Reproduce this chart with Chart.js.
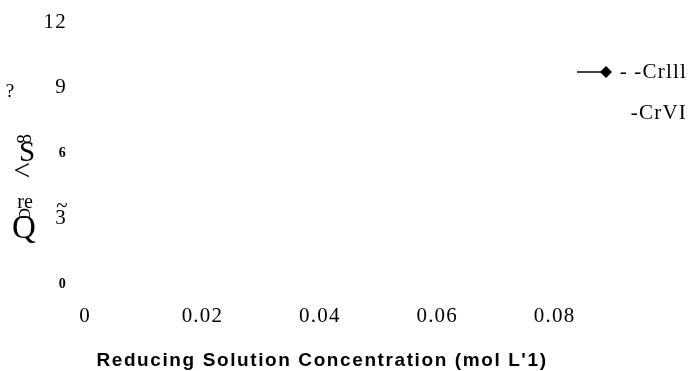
<!DOCTYPE html>
<html>
<head>
<meta charset="utf-8">
<script src="https://cdn.jsdelivr.net/npm/chart.js@4/dist/chart.umd.min.js"></script>
<style>
  html, body { margin: 0; padding: 0; background: #fff; }
  #wrap { width: 689px; height: 371px; position: relative; }
</style>
</head>
<body>
<div id="wrap"><canvas id="c" width="689" height="371"></canvas></div>
<script>
// ---- data (the plot area shows no drawn marks) ----
const xTickValues = [0, 0.02, 0.04, 0.06, 0.08];
const yTickValues = [0, 3, 6, 9, 12];
const seriesNames = ['- -Crlll', '-CrVI'];
const crIIIValues = [];
const crVIValues = [];
const xTitle = "Reducing Solution Concentration (mol L'1)";
const yTitleFragments = ['?', '8', 'S', '<', 're', 'Q', '~'];

const serif = "'Liberation Serif', 'Times New Roman', serif";
const sans = "'Liberation Sans', Arial, sans-serif";

const spacingPlugin = {
  id: 'spacing',
  beforeDraw(chart) { chart.ctx.letterSpacing = '1.2px'; }
};

const extrasPlugin = {
  id: 'extras',
  afterDraw(chart) {
    const ctx = chart.ctx;
    const ys = chart.scales.y;
    ctx.save();
    ctx.fillStyle = '#000';
    ctx.strokeStyle = '#000';
    // x axis title
    ctx.letterSpacing = '1.6px';
    ctx.font = "bold 19px " + sans;
    ctx.textAlign = 'center';
    ctx.textBaseline = 'middle';
    ctx.fillText(xTitle, 322, 361);
    // y title fragments (garbled rotated title)
    ctx.letterSpacing = '0px';
    const f = yTitleFragments;
    ctx.font = "19px " + serif; ctx.fillText(f[0], 10, 92);
    ctx.save(); ctx.translate(26, 139); ctx.rotate(-Math.PI / 2);
    ctx.font = "20px " + serif; ctx.fillText(f[1], 0, 0); ctx.restore();
    ctx.font = "29px " + serif; ctx.fillText(f[2], 27, 153);
    ctx.font = "30px " + serif; ctx.fillText(f[3], 22, 172);
    ctx.font = "20px " + serif; ctx.fillText(f[4], 25, 203);
    ctx.save(); ctx.translate(26, 214); ctx.rotate(-Math.PI / 2);
    ctx.font = "16px " + serif; ctx.fillText('D', 0, 0); ctx.restore();
    ctx.font = "33px " + serif; ctx.fillText(f[5], 24, 229);
    ctx.font = "21px " + serif; ctx.fillText(f[6], 62, ys.getPixelForValue(3) - 12);
    // legend
    ctx.lineWidth = 1.5;
    ctx.beginPath(); ctx.moveTo(577, 72); ctx.lineTo(610, 72); ctx.stroke();
    ctx.beginPath(); ctx.moveTo(606, 66); ctx.lineTo(612, 72); ctx.lineTo(606, 78); ctx.lineTo(600, 72); ctx.closePath(); ctx.fill();
    ctx.letterSpacing = '1.2px';
    ctx.font = "21px " + serif;
    ctx.textAlign = 'right';
    ctx.fillText(seriesNames[0], 687, 72);
    ctx.fillText(seriesNames[1], 687, 113);
    ctx.restore();
  }
};

new Chart(document.getElementById('c'), {
  type: 'line',
  data: {
    datasets: [
      { label: seriesNames[0], data: crIIIValues, borderColor: '#000', backgroundColor: '#000', pointStyle: 'rectRot' },
      { label: seriesNames[1], data: crVIValues, borderColor: '#000', backgroundColor: '#000', pointRadius: 0 }
    ]
  },
  plugins: [spacingPlugin, extrasPlugin],
  options: {
    responsive: false,
    animation: false,
    events: [],
    layout: { padding: { top: 22, right: 17, left: 0, bottom: 0 } },
    plugins: { legend: { display: false }, tooltip: { enabled: false } },
    scales: {
      x: {
        type: 'linear', min: 0, max: 0.1,
        grid: { display: false, drawTicks: false },
        border: { display: false },
        afterBuildTicks(s) { s.ticks = xTickValues.map(v => ({ value: v })); },
        afterFit(s) { s.height = 87; s.paddingLeft = 0; s.paddingRight = 0; },
        ticks: {
          padding: 20, color: '#000', maxRotation: 0, autoSkip: false,
          font: { family: serif, size: 21 },
          callback: v => String(v)
        }
      },
      y: {
        type: 'linear', min: 0, max: 12,
        grid: { display: false, drawTicks: false },
        border: { display: false },
        afterBuildTicks(s) { s.ticks = yTickValues.map(v => ({ value: v })); },
        afterFit(s) { s.width = 85; s.paddingTop = 0; s.paddingBottom = 0; },
        ticks: {
          padding: 18, color: '#000', autoSkip: false,
          font: ctx => (ctx.tick && (ctx.tick.value === 0 || ctx.tick.value === 6))
            ? { family: serif, size: 14, weight: 'bold' }
            : { family: serif, size: 21 },
          callback: v => String(v)
        }
      }
    }
  }
});
</script>
</body>
</html>
